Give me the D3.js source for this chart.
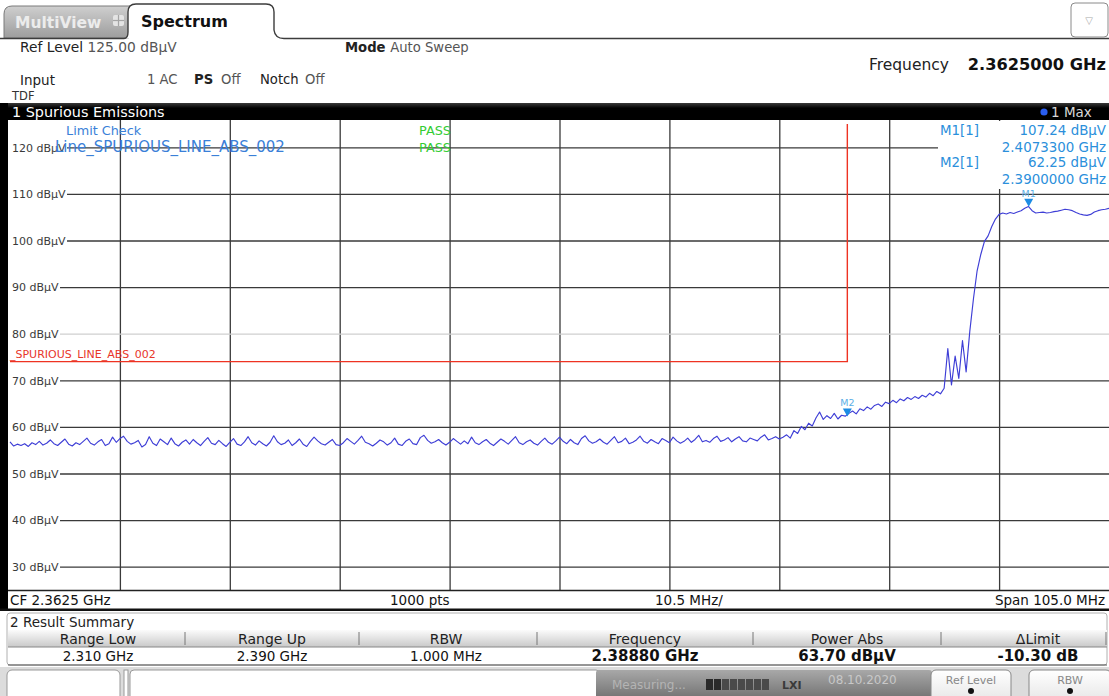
<!DOCTYPE html>
<html><head><meta charset="utf-8">
<script src="https://cdn.jsdelivr.net/npm/d3@7"></script>
<style>
body{margin:0;background:#fff;}
svg{display:block;font-family:"DejaVu Sans",Verdana,sans-serif;}
</style>
</head><body>
<svg id="c" width="1109" height="696"></svg>
<script>
// ---------------- DATA ----------------
const yTickValues = [120, 110, 100, 90, 80, 70, 60, 50, 40, 30];
const yTickLabels = ["120 dBµV", "110 dBµV", "100 dBµV", "90 dBµV", "80 dBµV", "70 dBµV", "60 dBµV", "50 dBµV", "40 dBµV", "30 dBµV"];
const xGridFreqs = [2320.5, 2331, 2341.5, 2352, 2362.5, 2373, 2383.5, 2394, 2404.5];
const sweepStartMHz = 2310;
const sweepStopMHz = 2415;
const sweepStepMHz = 0.35;
const refLevel = 125;
const bottomLevel = 25;

// trace 1 (Max hold), dBµV, one value per sweep step
const traceLevels = [
 56.8,55.9,56.3,56.0,56.4,55.8,56.6,56.2,56.9,56.1,
 56.5,57.2,56.4,56.0,56.7,57.4,56.3,55.9,56.6,56.2,
 56.9,57.6,56.5,56.1,56.8,57.3,56.0,56.4,57.8,56.7,
 57.5,58.0,56.9,56.3,56.6,57.1,55.7,56.2,57.9,56.5,
 56.0,57.4,56.8,56.2,57.6,56.4,55.9,56.7,57.2,56.3,
 57.3,56.6,56.0,56.9,57.7,56.5,56.2,57.1,56.4,55.8,
 56.7,57.5,56.3,56.0,56.8,57.9,56.6,56.1,57.0,56.4,
 55.9,56.7,58.1,56.8,56.2,56.5,57.2,56.0,56.6,57.4,
 56.3,55.8,56.9,57.8,57.0,56.4,56.1,56.7,57.3,56.2,
 56.0,56.6,57.5,56.9,56.3,57.1,58.0,56.7,56.4,55.9,
 56.5,57.2,56.8,56.1,56.6,57.6,56.3,56.0,56.9,57.4,
 56.4,56.2,57.7,58.2,57.1,56.5,56.8,57.3,56.6,56.1,
 56.7,57.5,56.9,56.3,57.0,56.4,57.8,56.6,56.2,56.8,
 57.3,56.5,56.0,56.7,57.4,56.9,56.3,57.1,57.9,56.6,
 56.2,56.8,57.2,56.5,56.1,56.9,57.6,56.7,56.3,57.0,
 57.8,56.9,56.4,57.3,56.6,56.2,57.5,58.1,57.0,56.5,
 56.8,57.4,56.7,56.3,57.1,57.9,56.6,56.9,57.6,56.4,
 56.7,57.2,58.0,56.9,56.5,57.3,56.8,56.4,57.5,57.1,
 56.6,57.8,57.0,56.5,56.9,57.6,56.7,57.3,58.2,56.8,
 57.1,56.7,57.5,58.0,56.9,57.2,57.7,56.8,57.4,57.9,
 57.0,56.8,57.6,57.3,57.0,57.8,58.3,57.2,57.5,57.9,
 57.4,
 57.8,58.3,57.6,59.2,58.6,60.1,59.4,60.8,60.2,61.9,
 63.2,61.6,62.4,61.8,62.9,61.7,62.5,62.3,
 62.9,63.4,62.8,63.9,63.5,64.3,63.8,64.6,64.9,64.4,
 65.3,65.0,65.7,65.2,66.0,65.6,66.3,65.9,66.5,66.1,
 66.8,66.4,67.2,66.7,67.6,67.1,
 68.3,76.8,69.0,75.2,70.4,78.5,71.8,
 80.5,87.5,93.5,97.0,99.8,101.0,103.0,104.6,105.6,
 105.9,105.7,106.0,105.8,106.1,106.4,106.9,107.3,106.4,105.9,
 106.0,106.1,105.9,106.0,106.2,106.3,106.5,106.7,106.6,106.4,
 106.0,105.7,105.5,105.4,105.6,106.1,106.4,106.6,106.7,106.9
];

const limitFreqs = [2310, 2390, 2390];
const limitLevels = [74, 74, 125];
const limitName = "_SPURIOUS_LINE_ABS_002";

const markerNames = ["M1", "M2"];
const markerFreqs = [2407.33, 2390.0];
const markerLevels = [107.24, 62.25];
const markerLabels = ["M1[1]", "M2[1]"];
const markerLevelTexts = ["107.24 dBµV", "62.25 dBµV"];
const markerFreqTexts = ["2.4073300 GHz", "2.3900000 GHz"];

const summaryHeaders = ["Range Low", "Range Up", "RBW", "Frequency", "Power Abs", "ΔLimit"];
const summaryValues = ["2.310 GHz", "2.390 GHz", "1.000 MHz", "2.38880 GHz", "63.70 dBµV", "-10.30 dB"];
const summaryBold = [false, false, false, true, true, true];

// ---------------- DRAW ----------------
const svg = d3.select("#c");
const W = 1109;
const plotL = 10, plotR = 1109, plotT = 124, plotB = 590;

const x = d3.scaleLinear().domain([sweepStartMHz, sweepStopMHz]).range([plotL, plotR]);
const y = d3.scaleLinear().domain([bottomLevel, refLevel]).range([plotB, plotT]);
const traceFreqs = traceLevels.map((_, i) => sweepStartMHz + i * sweepStepMHz);

const defs = svg.append("defs");
function vgrad(id, stops) {
  const g = defs.append("linearGradient").attr("id", id).attr("x1", 0).attr("y1", 0).attr("x2", 0).attr("y2", 1);
  stops.forEach(s => g.append("stop").attr("offset", s[0]).attr("stop-color", s[1]));
}
vgrad("gTabGray", [[0, "#cfcfcf"], [1, "#9d9d9d"]]);
vgrad("gTitle", [[0, "#3a3a3a"], [0.3, "#000"], [1, "#000"]]);
vgrad("gHead", [[0, "#fbfbfb"], [1, "#c9c9c9"]]);
vgrad("gStatus", [[0, "#a8a8a8"], [1, "#6c6c6c"]]);
vgrad("gSoft", [[0, "#ffffff"], [1, "#e6e6e6"]]);

svg.append("rect").attr("width", W).attr("height", 696).attr("fill", "#fff");

// ---- top tabs ----
svg.append("path")
  .attr("d", "M4,38 L4,14 Q4,6 12,6 L134,6 L134,38 Z")
  .attr("fill", "url(#gTabGray)").attr("stroke", "#7a7a7a").attr("stroke-width", 1);
svg.append("text").attr("x", 15).attr("y", 28).attr("font-size", 15.5).attr("font-weight", "bold")
  .attr("fill", "#ececec").text("MultiView");
const ic = svg.append("g").attr("transform", "translate(113,15)");
ic.append("rect").attr("width", 11).attr("height", 11).attr("rx", 2).attr("fill", "#e4e4e4");
ic.append("line").attr("x1", 5.5).attr("x2", 5.5).attr("y1", 0).attr("y2", 11).attr("stroke", "#a5a5a5").attr("stroke-width", 1.2);
ic.append("line").attr("x1", 0).attr("x2", 11).attr("y1", 5.5).attr("y2", 5.5).attr("stroke", "#a5a5a5").attr("stroke-width", 1.2);

svg.append("path")
  .attr("d", "M0,38.5 L124,38.5 Q128,38.5 128,32 L128,12 Q128,4 136,4 L266,4 Q274,4 274,12 L274,30 Q275,38.5 284,38.5 L1109,38.5")
  .attr("fill", "#fff").attr("stroke", "#3c3c3c").attr("stroke-width", 1.4);
svg.append("rect").attr("x", 129).attr("y", 36).attr("width", 144).attr("height", 4).attr("fill", "#fff");
svg.append("text").attr("x", 141).attr("y", 27).attr("font-size", 16).attr("font-weight", "bold")
  .attr("fill", "#111").text("Spectrum");
svg.append("rect").attr("x", 1071).attr("y", 3).attr("width", 37).attr("height", 34).attr("rx", 4)
  .attr("fill", "#fff").attr("stroke", "#8a8a8a");
svg.append("text").attr("x", 1089).attr("y", 24).attr("text-anchor", "middle").attr("font-size", 10)
  .attr("fill", "#aaa").text("▽");

// ---- info area ----
function t(xp, yp, str, size, opts = {}) {
  return svg.append("text").attr("x", xp).attr("y", yp).attr("font-size", size)
    .attr("fill", opts.fill || "#222").attr("font-weight", opts.bold ? "bold" : "normal")
    .attr("text-anchor", opts.anchor || "start").text(str);
}
const r1 = svg.append("text").attr("x", 20).attr("y", 52).attr("font-size", 13.8);
r1.append("tspan").attr("fill", "#222").text("Ref Level ");
r1.append("tspan").attr("fill", "#555").text("125.00 dBµV");
const r2 = svg.append("text").attr("x", 345).attr("y", 52).attr("font-size", 13.2);
r2.append("tspan").attr("fill", "#222").attr("font-weight", "bold").text("Mode ");
r2.append("tspan").attr("fill", "#555").text("Auto Sweep");
t(949, 70, "Frequency", 15.5, { fill: "#222", anchor: "end" });
t(1106, 70, "2.3625000 GHz", 16.2, { fill: "#111", anchor: "end", bold: true });
t(20, 85, "Input", 13.5, { fill: "#222" });
t(147, 84, "1 AC", 13.2, { fill: "#555" });
t(194, 84, "PS", 13.2, { fill: "#222", bold: true });
t(221, 84, "Off", 13.2, { fill: "#555" });
t(260, 84, "Notch", 13.2, { fill: "#222" });
t(305, 84, "Off", 13.2, { fill: "#555" });
t(12, 100, "TDF", 11.5, { fill: "#333" });

// ---- window title bar ----
svg.append("rect").attr("x", 0).attr("y", 103).attr("width", W).attr("height", 17).attr("fill", "url(#gTitle)");
t(12, 117, "1 Spurious Emissions", 14.4, { fill: "#fff" });
svg.append("circle").attr("cx", 1044).attr("cy", 112).attr("r", 3.6).attr("fill", "#2a5ef0");
t(1051, 117, "1 Max", 13.5, { fill: "#d8d8d8" });

// ---- plot frame ----
svg.append("rect").attr("x", 0).attr("y", 103).attr("width", 8).attr("height", 508).attr("fill", "#000");

// grid lines through axes
const gx = svg.append("g").attr("transform", `translate(0,${plotB})`)
  .call(d3.axisBottom(x).tickValues(xGridFreqs).tickSize(-(plotB - 120)).tickFormat(""));
gx.select(".domain").remove();
gx.selectAll("line").attr("stroke", "#3a3a3a").attr("stroke-width", 1.3);

const gy = svg.append("g").attr("transform", `translate(${plotR},0)`)
  .call(d3.axisLeft(y).tickValues(yTickValues).tickSize(plotR - 8).tickFormat(""));
gy.select(".domain").remove();
gy.selectAll("line").attr("stroke", d => d === 80 ? "#cfcfcf" : "#3a3a3a").attr("stroke-width", 1.3);

// y labels
const gl = svg.append("g").attr("transform", "translate(10,0)")
  .call(d3.axisRight(y).tickValues(yTickValues).tickSize(0).tickPadding(2)
    .tickFormat(d => yTickLabels[yTickValues.indexOf(d)]));
gl.select(".domain").remove();
gl.selectAll("text").attr("font-size", 11).attr("fill", "#3a3a3a")
  .attr("font-family", '"DejaVu Sans",Verdana,sans-serif').attr("dy", "0.35em");
gl.selectAll(".tick").each(function () {
  const tx = d3.select(this).select("text");
  const bb = tx.node().getBBox();
  d3.select(this).insert("rect", "text").attr("x", -2).attr("y", bb.y).attr("width", bb.x + bb.width + 3)
    .attr("height", bb.height).attr("fill", "#fff");
});

// marker readout box blanks the grid behind it
svg.append("rect").attr("x", 938).attr("y", 121).attr("width", 171).attr("height", 68).attr("fill", "#fff");

// limit line
const limitLine = d3.line().x(d => x(d[0])).y(d => y(d[1]));
svg.append("path").datum(limitFreqs.map((f, i) => [f, limitLevels[i]]))
  .attr("d", limitLine).attr("fill", "none").attr("stroke", "#ee3322").attr("stroke-width", 1.4);
t(10, y(limitLevels[0]) - 4, limitName, 11, { fill: "#e8362a" });

// trace
const traceLine = d3.line().x(d => x(d[0])).y(d => y(d[1]));
svg.append("path").datum(traceFreqs.map((f, i) => [f, traceLevels[i]]))
  .attr("d", traceLine).attr("fill", "none").attr("stroke", "#3e3ed6").attr("stroke-width", 1.15)
  .attr("stroke-linejoin", "round");

// markers
markerNames.forEach((m, i) => {
  const mx = x(markerFreqs[i]), my = y(markerLevels[i]);
  svg.append("path").attr("d", `M${mx - 4.5},${my - 8} L${mx + 4.5},${my - 8} L${mx},${my} Z`).attr("fill", "#1c8ce4");
  t(mx, my - 10, m, 9.5, { fill: "#5aaee6", anchor: "middle" });
});

// limit check texts
t(66, 135, "Limit Check", 12.8, { fill: "#3a7fd8" });
t(55, 152, "Line_SPURIOUS_LINE_ABS_002", 15, { fill: "#3a7fd8" });
t(419, 135, "PASS", 12.8, { fill: "#33cc33" });
t(419, 152, "PASS", 12.8, { fill: "#33cc33" });

// marker readout
markerLabels.forEach((m, i) => {
  const by = 135 + i * 32;
  t(940, by, m, 13.4, { fill: "#2b8fdb" });
  t(1106, by, markerLevelTexts[i], 13.4, { fill: "#2b8fdb", anchor: "end" });
  t(1106, by + 16.5, markerFreqTexts[i], 13.4, { fill: "#2b8fdb", anchor: "end" });
});

// ---- bottom status line of the diagram ----
svg.append("line").attr("x1", 8).attr("x2", W).attr("y1", 590.5).attr("y2", 590.5).attr("stroke", "#222").attr("stroke-width", 1.5);
t(10, 605, "CF 2.3625 GHz", 13.5, { fill: "#111" });
t(390, 605, "1000 pts", 13.5, { fill: "#111" });
t(655, 605, "10.5 MHz/", 13.5, { fill: "#111" });
t(1105, 605, "Span 105.0 MHz", 13.5, { fill: "#111", anchor: "end" });
svg.append("rect").attr("x", 0).attr("y", 608.5).attr("width", W).attr("height", 2.5).attr("fill", "#111");

// ---- result summary ----
svg.append("rect").attr("x", 7).attr("y", 613).attr("width", 1100).attr("height", 52).attr("rx", 3)
  .attr("fill", "#fff").attr("stroke", "#b0b0b0");
t(10, 627, "2 Result Summary", 13.5, { fill: "#222" });
svg.append("rect").attr("x", 8).attr("y", 630).attr("width", 1099).attr("height", 17).attr("fill", "url(#gHead)");
svg.append("line").attr("x1", 8).attr("x2", 1107).attr("y1", 647).attr("y2", 647).attr("stroke", "#888");
const colCenters = [98, 272, 446, 645, 847, 1038];
const colSeps = [185, 359, 537, 753, 941, 1106];
const colX = d3.scaleOrdinal().domain(summaryHeaders).range(colCenters);
colSeps.forEach(sx => svg.append("line").attr("x1", sx).attr("x2", sx).attr("y1", 632).attr("y2", 645).attr("stroke", "#777"));
summaryHeaders.forEach((h, i) => {
  t(colX(h), 644, h, 14, { fill: "#222", anchor: "middle" });
  t(colX(h), 661, summaryValues[i], summaryBold[i] ? 15 : 13.5, { fill: "#111", anchor: "middle", bold: summaryBold[i] });
});
svg.append("line").attr("x1", 8).attr("x2", 1107).attr("y1", 665).attr("y2", 665).attr("stroke", "#555").attr("stroke-width", 1.2);

// ---- softkey / status bar ----
svg.append("rect").attr("x", 0).attr("y", 667).attr("width", W).attr("height", 29).attr("fill", "#dcdcdc");
svg.append("rect").attr("x", 7).attr("y", 670).attr("width", 113).attr("height", 32).attr("rx", 5).attr("fill", "#fff").attr("stroke", "#999");
svg.append("rect").attr("x", 124).attr("y", 670).attr("width", 4).attr("height", 30).attr("fill", "#fff").attr("stroke", "#999");
svg.append("rect").attr("x", 130).attr("y", 670).attr("width", 470).attr("height", 32).attr("rx", 4).attr("fill", "#fff").attr("stroke", "#999");
svg.append("rect").attr("x", 596).attr("y", 670).attr("width", 336).attr("height", 32).attr("rx", 3).attr("fill", "url(#gStatus)");
t(612, 689, "Measuring...", 12, { fill: "#b4b4b4" });
[0, 1, 2, 3, 4, 5, 6, 7].forEach(k => svg.append("rect").attr("x", 706 + k * 8).attr("y", 679).attr("width", 7).attr("height", 11)
  .attr("fill", k < 2 ? "#2a2a2a" : "#4a4a4a"));
t(782, 689, "LXI", 11, { fill: "#3a3a3a", bold: true });
t(828, 684, "08.10.2020", 12, { fill: "#c8c8c8" });
svg.append("rect").attr("x", 931).attr("y", 670).attr("width", 80).attr("height", 32).attr("rx", 5).attr("fill", "url(#gSoft)").attr("stroke", "#888");
t(971, 684, "Ref Level", 11, { fill: "#888", anchor: "middle" });
svg.append("circle").attr("cx", 971).attr("cy", 691).attr("r", 3).attr("fill", "#111");
svg.append("rect").attr("x", 1029).attr("y", 670).attr("width", 82).attr("height", 32).attr("rx", 5).attr("fill", "url(#gSoft)").attr("stroke", "#888");
t(1070, 684, "RBW", 11, { fill: "#888", anchor: "middle" });
svg.append("circle").attr("cx", 1070).attr("cy", 691).attr("r", 3).attr("fill", "#111");
</script>
</body></html>
